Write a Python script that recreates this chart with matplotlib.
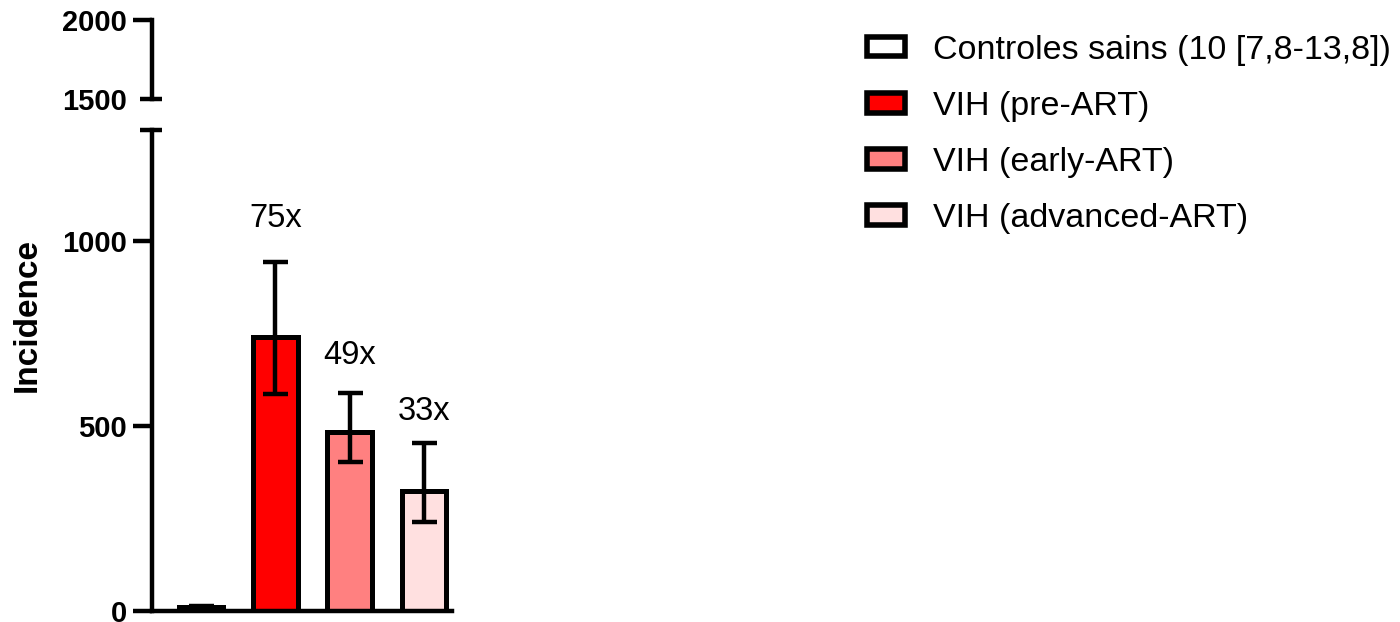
import numpy as np
import matplotlib
matplotlib.use('Agg')
import matplotlib.pyplot as plt
import matplotlib.transforms as mtransforms
from matplotlib.patches import Rectangle

plt.rcParams['font.family'] = ['Liberation Sans', 'DejaVu Sans']

# incidence per group, with 95% interval bounds
groups = ['Controles sains (10 [7,8-13,8])', 'VIH (pre-ART)',
          'VIH (early-ART)', 'VIH (advanced-ART)']
incidence = np.array([10, 740, 485, 325])
ci_low = np.array([7.8, 587, 402, 240])
ci_high = np.array([13.8, 942, 589, 454])
fold_labels = ['', '75x', '49x', '33x']
bar_colors = ['white', '#ff0000', '#ff8080', '#ffe0e0']

# heights at which the fold-change labels sit
label_y = [0, 1062, 690, 540]

W, H = 1400, 622
fig = plt.figure(figsize=(W / 100, H / 100), dpi=100)

# broken y axis: lower part 0-1300, upper part 1500-2000
ax_low = fig.add_axes([152 / W, (H - 611) / H, 300 / W, (611 - 130) / H])
ax_up = fig.add_axes([152 / W, (H - 99) / H, 300 / W, (99 - 20) / H])

x = np.arange(len(groups))
lw_axis = 3.2

ax_low.bar(x, incidence, width=0.6, color=bar_colors, edgecolor='black',
           linewidth=3.6, zorder=2)
ax_low.errorbar(x, incidence, yerr=[incidence - ci_low, ci_high - incidence],
                fmt='none', ecolor='black', elinewidth=3.2, capsize=9,
                capthick=3.2, zorder=3)

for xi, ly, lab in zip(x, label_y, fold_labels):
    if lab:
        ax_low.text(xi, ly, lab, ha='center', va='center', fontsize=23.5)

ax_low.set_xlim(-0.66, 3.377)
ax_low.set_ylim(0, 1300)
ax_low.set_yticks([0, 500, 1000])
ax_low.set_xticks([])

ax_up.set_xlim(-0.66, 3.377)
ax_up.set_ylim(1500, 2000)
ax_up.set_yticks([1500, 2000])
ax_up.set_xticks([])

for ax in (ax_low, ax_up):
    for side in ('top', 'right'):
        ax.spines[side].set_visible(False)
    ax.spines['left'].set_linewidth(lw_axis)
    ax.spines['bottom'].set_linewidth(lw_axis)
    ax.tick_params(axis='y', length=14, width=lw_axis, pad=4,
                   labelsize=21)
    for t in ax.get_yticklabels():
        t.set_fontweight('bold')
    ax.patch.set_alpha(0)
ax_up.spines['bottom'].set_visible(False)

# break marks: short caps centred on the axis at each cut
ax_up.yaxis.get_major_ticks()[0].tick1line.set_visible(False)
for ax, yv in ((ax_up, 1500), (ax_low, 1300)):
    tr = mtransforms.blended_transform_factory(ax.transAxes, ax.transData)
    ax.plot([-0.04, 0.033], [yv, yv], transform=tr, color='black',
            lw=lw_axis, solid_capstyle='butt', clip_on=False)

fig.text(27.5 / W, (H - 315) / H, 'Incidence', rotation=90, ha='center',
         va='center', fontsize=24, fontweight='bold')

handles = [Rectangle((0, 0), 1, 1, facecolor=c, edgecolor='black', linewidth=4)
           for c in bar_colors]
fig.legend(handles, groups, loc='upper left', bbox_to_anchor=(867 / W, (H - 35) / H),
           frameon=False, fontsize=24.5, handlelength=1.13, handleheight=0.49,
           handletextpad=0.81, labelspacing=0.735, borderpad=0, borderaxespad=0)

fig.savefig('out.png', dpi=100)
